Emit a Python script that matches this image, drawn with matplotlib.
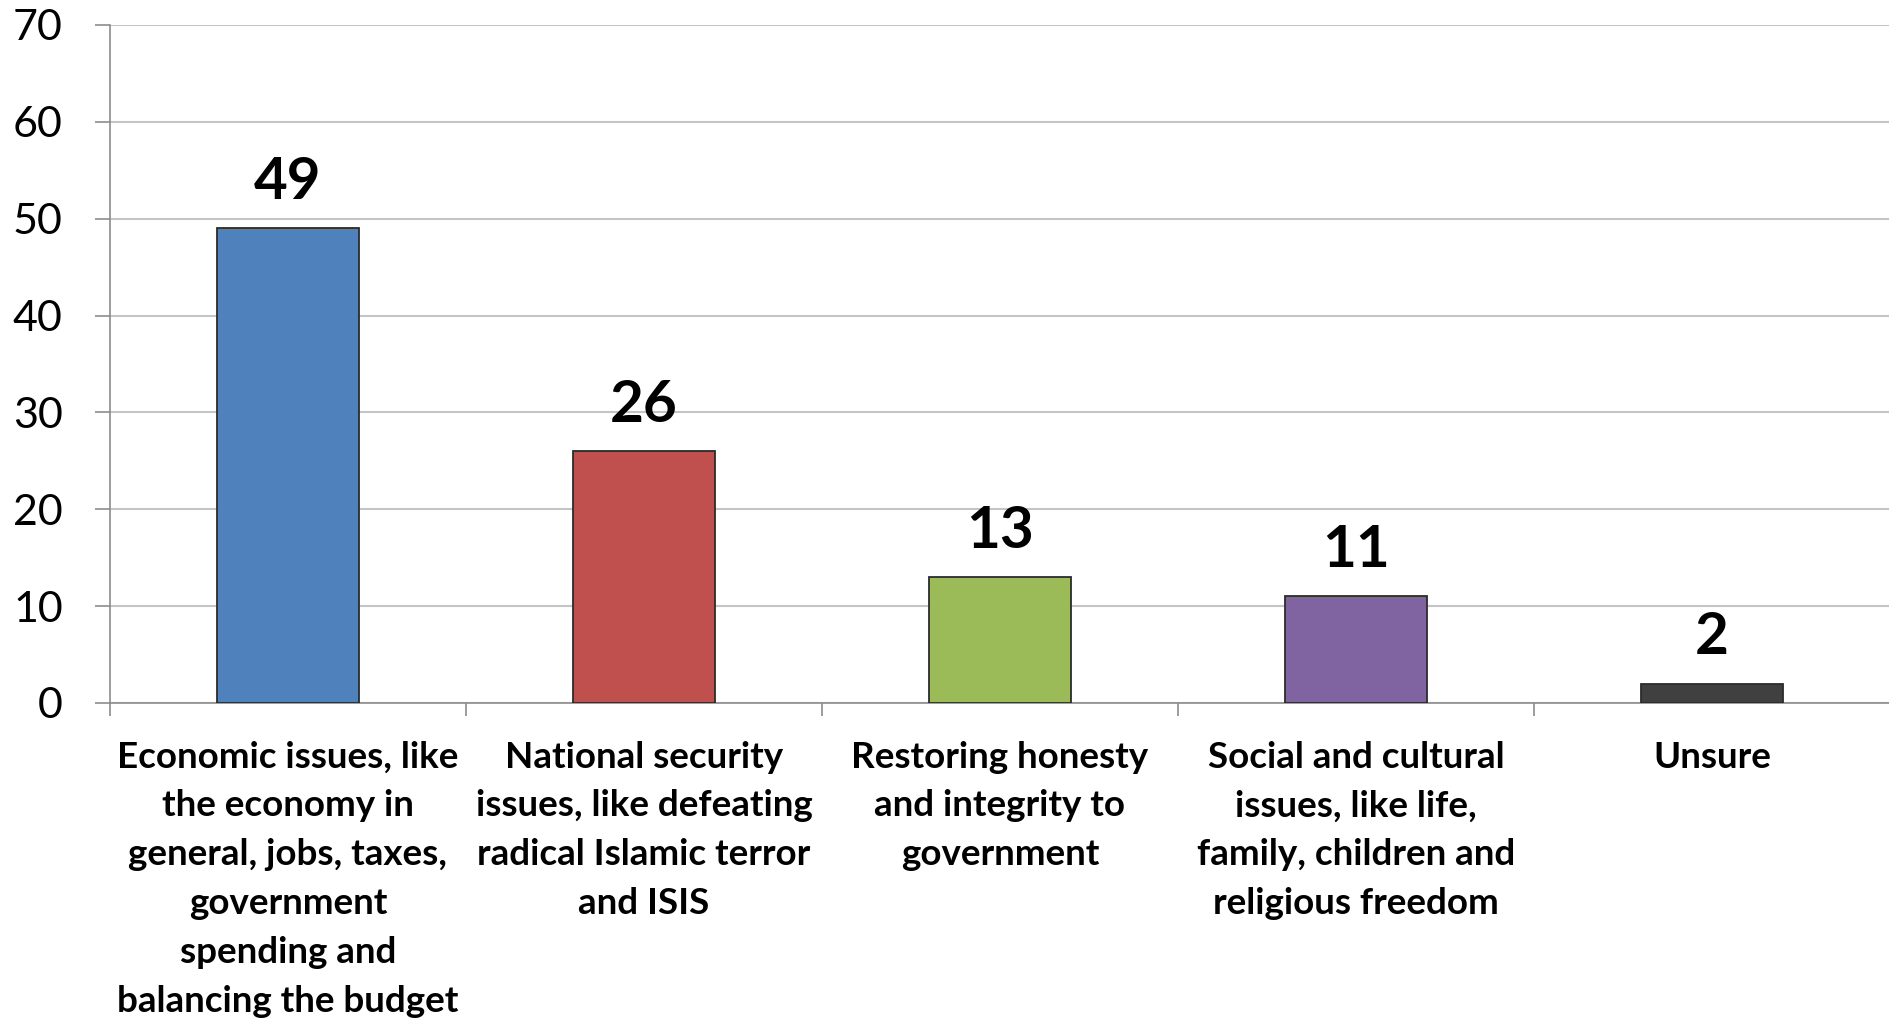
import matplotlib
matplotlib.use("Agg")
import matplotlib.pyplot as plt
import numpy as np

# survey categories and shares (%)
categories = [
    "Economic issues, like\nthe economy in\ngeneral, jobs, taxes,\ngovernment\nspending and\nbalancing the budget",
    "National security\nissues, like defeating\nradical Islamic terror\nand ISIS",
    "Restoring honesty\nand integrity to\ngovernment",
    "Social and cultural\nissues, like life,\nfamily, children and\nreligious freedom",
    "Unsure",
]
values = [49, 26, 13, 11, 2]
colors = ["#4F81BD", "#C0504D", "#9BBB59", "#8064A2", "#404040"]
yticks = [0, 10, 20, 30, 40, 50, 60, 70]

plt.rcParams["font.family"] = ["Lato", "DejaVu Sans"]

fig = plt.figure(figsize=(18.9, 10.18), dpi=100)
ax = fig.add_axes([110 / 1890, 1 - 703 / 1018, 1 - 110 / 1890, (703 - 25) / 1018])

x = np.arange(len(values))
ax.bar(x, values, width=0.4, color=colors, edgecolor="#2b2b2b", linewidth=1.3, zorder=3)

# value labels above bars
for xi, v in zip(x, values):
    ax.annotate(str(v), (xi, v), xytext=(0, 21), textcoords="offset points",
                ha="center", va="baseline", fontsize=42, fontweight="bold")

ax.set_xlim(-0.5, len(values) - 0.5)
ax.set_ylim(0, 70)
ax.set_yticks(yticks)
ax.set_yticklabels([str(t) for t in yticks], fontsize=31)
ax.tick_params(axis="y", length=11, width=1.2, color="#8c8c8c", pad=23)

ax.set_xticks(x)
ax.set_xticklabels(categories, fontsize=26.5, fontweight="bold", linespacing=1.59)
ax.set_xticks(np.arange(len(values) + 1) - 0.5, minor=True)
ax.tick_params(axis="x", which="major", length=0, pad=27)
ax.tick_params(axis="x", which="minor", length=9, width=1.2, color="#8c8c8c")
for lbl in ax.get_xticklabels():
    lbl.set_verticalalignment("top")

ax.grid(axis="y", color="#c4c4c4", linewidth=1.5, zorder=0)
for side in ["top", "right"]:
    ax.spines[side].set_visible(False)
for side in ["left", "bottom"]:
    ax.spines[side].set_color("#8c8c8c")
    ax.spines[side].set_linewidth(1.2)

fig.savefig("out.png", dpi=100)
